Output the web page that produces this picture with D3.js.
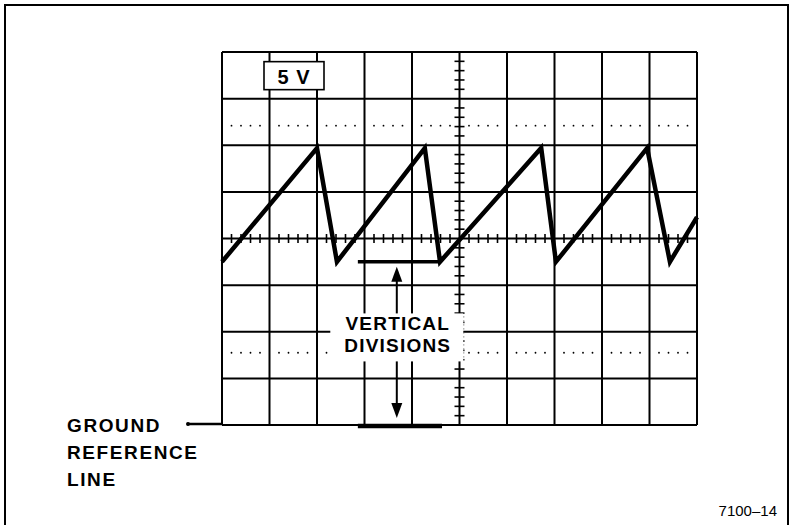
<!DOCTYPE html>
<html>
<head>
<meta charset="utf-8">
<script src="https://cdn.jsdelivr.net/npm/d3@7"></script>
<style>
  body { margin: 0; background: #fff; }
  text { font-family: "Liberation Sans", Arial, sans-serif; fill: #000; }
</style>
</head>
<body>
<div id="scope"></div>
<script>
// graticule: 10 x 8 divisions, 5 V per division, ground at the bottom line
var voltsPerDiv = 5;
var xDivs = d3.range(0, 11);
var yDivs = d3.range(0, 9);
var dottedRows = [1.55, 6.42];            // in divisions above ground

// sawtooth (time in divisions, level in volts)
var waveTime  = [0, 2.0, 2.42, 4.27, 4.59, 6.72, 7.03, 8.95, 9.43, 10];
var waveVolts = [17.5, 29.7, 17.5, 29.7, 17.5, 29.7, 17.5, 29.7, 17.5, 22.3];

// annotation: measure from ground to the bottom of the waveform
var markerSpan = [2.86, 4.59];
var markerVolts = 17.5;
var arrowTime = 3.68;
var labelLines = ["VERTICAL", "DIVISIONS"];
var groundLabel = ["GROUND", "REFERENCE", "LINE"];
var scaleLabel = "5 V";
var figureId = "7100\u201314";

var W = 792, H = 525;

var svg = d3.select("#scope").append("svg")
    .attr("width", W)
    .attr("height", H);

var x = d3.scaleLinear().domain([0, 10]).range([222, 697]);
var y = d3.scaleLinear().domain([0, 8 * voltsPerDiv]).range([425, 52]);

// outer frame (bottom runs off the page)
svg.append("path")
    .attr("d", "M5,530V5H788V530")
    .attr("fill", "none")
    .attr("stroke", "#000")
    .attr("stroke-width", 2);

var grid = svg.append("g").attr("stroke", "#000").attr("stroke-width", 2);

grid.selectAll(".vline")
    .data(xDivs)
    .enter().append("line")
    .attr("class", "vline")
    .attr("x1", function(d){ return x(d); })
    .attr("x2", function(d){ return x(d); })
    .attr("y1", y(8 * voltsPerDiv))
    .attr("y2", y(0));

grid.selectAll(".hline")
    .data(yDivs)
    .enter().append("line")
    .attr("class", "hline")
    .attr("x1", x(0))
    .attr("x2", x(10))
    .attr("y1", function(d){ return y(d * voltsPerDiv); })
    .attr("y2", function(d){ return y(d * voltsPerDiv); });

// minor positions: 5 per division
var minorX = d3.range(0, 10.001, 0.2).filter(function(d){ return Math.abs(d - Math.round(d)) > 0.01; });
var minorY = d3.range(0, 8 * voltsPerDiv + 0.001, 1).filter(function(d){ return d % voltsPerDiv !== 0; });

// dotted rise-time rows
dottedRows.forEach(function(r){
    svg.append("g").selectAll("circle")
        .data(minorX)
        .enter().append("circle")
        .attr("cx", function(d){ return x(d); })
        .attr("cy", y(r * voltsPerDiv))
        .attr("r", 0.9)
        .attr("fill", "#000");
});

// tick marks on the centre cross
var cy = y(4 * voltsPerDiv), cx = x(5);
svg.append("g").selectAll("line")
    .data(minorX)
    .enter().append("line")
    .attr("x1", function(d){ return x(d); })
    .attr("x2", function(d){ return x(d); })
    .attr("y1", cy - 4.5)
    .attr("y2", cy + 4.5)
    .attr("stroke", "#000")
    .attr("stroke-width", 1.6);

svg.append("g").selectAll("line")
    .data(minorY)
    .enter().append("line")
    .attr("x1", cx - 5)
    .attr("x2", cx + 5)
    .attr("y1", function(d){ return y(d); })
    .attr("y2", function(d){ return y(d); })
    .attr("stroke", "#000")
    .attr("stroke-width", 1.6);

// waveform
var wave = waveTime.map(function(t, i){ return [t, waveVolts[i]]; });
svg.append("path")
    .datum(wave)
    .attr("d", d3.line().x(function(d){ return x(d[0]); }).y(function(d){ return y(d[1]); }))
    .attr("fill", "none")
    .attr("stroke", "#000")
    .attr("stroke-width", 4.5)
    .attr("stroke-linejoin", "miter")
    .attr("stroke-miterlimit", 10);

// marker at the bottom of the waveform, and the ground bar
svg.append("line")
    .attr("x1", x(markerSpan[0])).attr("x2", x(markerSpan[1]))
    .attr("y1", y(markerVolts)).attr("y2", y(markerVolts))
    .attr("stroke", "#000").attr("stroke-width", 3.5);

svg.append("line")
    .attr("x1", x(markerSpan[0])).attr("x2", x(markerSpan[1]) + 2)
    .attr("y1", y(0) + 1).attr("y2", y(0) + 1)
    .attr("stroke", "#000").attr("stroke-width", 4.5);

// double arrow
var ax = x(arrowTime);
var topTip = y(markerVolts) + 5, botTip = y(0) - 7;
svg.append("line")
    .attr("x1", ax).attr("x2", ax)
    .attr("y1", topTip + 10).attr("y2", botTip - 10)
    .attr("stroke", "#000").attr("stroke-width", 2);
svg.append("path")
    .attr("d", "M" + ax + "," + topTip + "L" + (ax - 5.5) + "," + (topTip + 15) + "L" + (ax + 5.5) + "," + (topTip + 15) + "Z")
    .attr("fill", "#000");
svg.append("path")
    .attr("d", "M" + ax + "," + botTip + "L" + (ax - 5.5) + "," + (botTip - 15) + "L" + (ax + 5.5) + "," + (botTip - 15) + "Z")
    .attr("fill", "#000");

// label box over the arrow
var by = y(1.9 * voltsPerDiv);
svg.append("rect")
    .attr("x", ax - 66.5).attr("y", by - 23)
    .attr("width", 133).attr("height", 48)
    .attr("fill", "#fff");
svg.append("line")
    .attr("x1", ax + 67).attr("x2", ax + 67)
    .attr("y1", by - 20).attr("y2", by + 22)
    .attr("stroke", "#555").attr("stroke-width", 1)
    .attr("stroke-dasharray", "1,3");

svg.selectAll(".vdiv")
    .data(labelLines)
    .enter().append("text")
    .attr("class", "vdiv")
    .attr("x", ax + 1)
    .attr("y", function(d, i){ return by - 6 + i * 22; })
    .attr("text-anchor", "middle")
    .attr("font-size", 19)
    .attr("font-weight", "bold")
    .attr("letter-spacing", 1.2)
    .text(function(d){ return d; });

// volts/div readout
svg.append("rect")
    .attr("x", 264).attr("y", y(7.75 * voltsPerDiv) - 2)
    .attr("width", 60).attr("height", 28)
    .attr("fill", "#fff")
    .attr("stroke", "#000")
    .attr("stroke-width", 1.6);
svg.append("text")
    .attr("x", 294).attr("y", y(7.75 * voltsPerDiv) + 20)
    .attr("text-anchor", "middle")
    .attr("font-size", 20)
    .attr("font-weight", "bold")
    .attr("letter-spacing", 1)
    .text(scaleLabel);

// ground reference lead-in
svg.append("line")
    .attr("x1", 187).attr("x2", x(0))
    .attr("y1", y(0) - 1).attr("y2", y(0) - 1)
    .attr("stroke", "#000").attr("stroke-width", 2.5);
svg.append("circle")
    .attr("cx", 188).attr("cy", y(0) - 1).attr("r", 2)
    .attr("fill", "#000");

svg.selectAll(".gnd")
    .data(groundLabel)
    .enter().append("text")
    .attr("class", "gnd")
    .attr("x", 67)
    .attr("y", function(d, i){ return 432 + i * 27; })
    .attr("font-size", 19)
    .attr("font-weight", "bold")
    .attr("letter-spacing", 1.6)
    .text(function(d){ return d; });

svg.append("text")
    .attr("x", 777).attr("y", 516)
    .attr("text-anchor", "end")
    .attr("font-size", 15)
    .text(figureId);
</script>
</body>
</html>
